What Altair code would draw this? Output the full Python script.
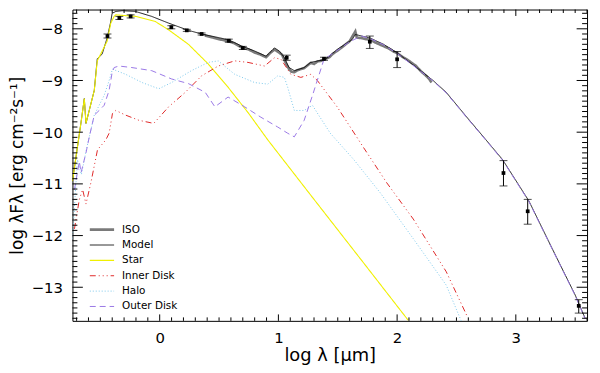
import altair as alt
import pandas as pd

# ---------------- data (log lambda [um], log lambda F_lambda) ----------------
series_names = ["ISO", "Model", "Star", "Inner Disk", "Halo", "Outer Disk"]

iso_x = [0.38, 0.45, 0.50, 0.576, 0.63, 0.688, 0.75, 0.80, 0.85, 0.896, 0.93, 0.967,
         1.0, 1.03, 1.05, 1.07, 1.09, 1.11, 1.134, 1.16, 1.19, 1.217, 1.25, 1.272,
         1.30, 1.33, 1.36, 1.398, 1.43, 1.46, 1.50, 1.55, 1.60, 1.63, 1.648, 1.66,
         1.70, 1.74, 1.78, 1.83, 1.88, 1.93, 1.97, 2.0, 2.05, 2.1, 2.16, 2.2, 2.24,
         2.27, 2.29]
iso_y = [-8.13, -8.17, -8.20, -8.24, -8.28, -8.36, -8.40, -8.46, -8.50, -8.55, -8.47,
         -8.40, -8.45, -8.50, -8.60, -8.70, -8.78, -8.83, -8.84, -8.80, -8.78, -8.76,
         -8.70, -8.66, -8.68, -8.63, -8.62, -8.58, -8.55, -8.48, -8.42, -8.33, -8.24,
         -8.12, -8.05, -8.17, -8.18, -8.20, -8.22, -8.28, -8.33, -8.38, -8.44, -8.47,
         -8.55, -8.62, -8.72, -8.82, -8.90, -8.97, -9.04]

model_x = [-0.735, -0.662, -0.635, -0.621, -0.551, -0.526, -0.485, -0.443, -0.412,
           -0.401, -0.370, -0.317, -0.203, -0.067, 0.075, 0.242, 0.353, 0.576, 0.688,
           0.80, 0.896, 0.967, 1.008, 1.05, 1.09, 1.134, 1.217, 1.272, 1.398, 1.495,
           1.621, 1.648, 1.774, 1.886, 1.997, 2.164, 2.303, 2.414, 2.58, 2.749, 2.888,
           3.11, 3.306, 3.50, 3.584]
model_y = [-10.95, -9.80, -9.35, -9.83, -9.19, -8.58, -8.49, -8.18, -7.86, -7.70,
           -7.665, -7.65, -7.665, -7.76, -7.89, -8.03, -8.10, -8.21, -8.33, -8.43,
           -8.53, -8.37, -8.43, -8.56, -8.75, -8.81, -8.75, -8.65, -8.59, -8.40, -8.21,
           -8.11, -8.18, -8.30, -8.46, -8.75, -9.00, -9.23, -9.69, -10.15, -10.53,
           -11.33, -12.25, -13.15, -13.60]

star_x = [-0.735, -0.662, -0.635, -0.621, -0.551, -0.526, -0.443, -0.412, -0.384,
          -0.370, -0.203, -0.036, 0.075, 0.242, 0.409, 0.576, 0.744, 0.911, 1.30,
          1.718, 2.094]
star_y = [-10.95, -9.80, -9.35, -9.83, -9.19, -8.62, -8.24, -7.89, -7.76, -7.73,
          -7.76, -7.86, -8.02, -8.30, -8.68, -9.13, -9.62, -10.15, -11.30, -12.53,
          -13.64]

inner_x = [-0.718, -0.677, -0.649, -0.621, -0.579, -0.524, -0.454, -0.426, -0.398,
           -0.370, -0.287, -0.175, -0.05, 0.075, 0.215, 0.353, 0.493, 0.632, 0.744,
           0.883, 0.967, 1.022, 1.105, 1.189, 1.272, 1.328, 1.495, 1.718, 1.913, 2.136,
           2.414, 2.596]
inner_y = [-11.87, -11.30, -11.11, -11.39, -10.97, -10.34, -10.15, -10.02, -9.64,
           -9.58, -9.67, -9.77, -9.83, -9.51, -9.23, -8.91, -8.72, -8.62, -8.65, -8.72,
           -8.56, -8.59, -8.88, -8.94, -8.88, -9.00, -9.51, -10.30, -10.98, -11.68,
           -12.70, -13.59]

halo_x = [-0.735, -0.693, -0.66, -0.618, -0.551, -0.51, -0.468, -0.426, -0.398,
          -0.287, -0.148, -0.008, 0.10, 0.267, 0.409, 0.493, 0.632, 0.80, 0.911, 0.994,
          1.05, 1.078, 1.134, 1.217, 1.287, 1.328, 1.437, 1.635, 1.857, 2.136, 2.414,
          2.54]
halo_y = [-12.06, -10.53, -10.82, -10.34, -9.67, -9.48, -9.29, -9.00, -8.78, -8.88,
          -9.04, -9.16, -9.04, -8.81, -8.65, -8.62, -8.88, -9.04, -9.07, -8.91, -8.94,
          -9.13, -9.58, -9.58, -9.48, -9.63, -10.02, -10.53, -11.17, -12.06, -12.96,
          -13.65]

outer_x = [-0.718, -0.677, -0.662, -0.621, -0.593, -0.551, -0.51, -0.468, -0.426,
           -0.401, -0.384, -0.343, -0.234, -0.067, 0.10, 0.242, 0.384, 0.465, 0.576,
           0.716, 0.852, 0.994, 1.078, 1.134, 1.217, 1.287, 1.384, 1.495, 1.60, 1.70,
           1.774, 1.886, 1.997, 2.164, 2.303, 2.414, 2.58, 2.749, 2.888, 3.11, 3.306,
           3.50, 3.584]
outer_y = [-11.11, -10.57, -10.78, -10.40, -10.09, -9.67, -9.58, -9.48, -9.19, -8.85,
           -8.75, -8.72, -8.75, -8.81, -8.97, -9.06, -9.23, -9.51, -9.32, -9.51, -9.71,
           -9.90, -10.02, -10.09, -9.77, -9.29, -8.59, -8.42, -8.25, -8.14, -8.19,
           -8.31, -8.47, -8.76, -9.01, -9.24, -9.70, -10.16, -10.54, -11.34, -12.26,
           -13.16, -13.61]

# photometry with error bars
phot_x = [-0.44, -0.34, -0.245, 0.098, 0.228, 0.353, 0.582, 0.70, 1.07, 1.384, 1.77,
          2.0, 2.896, 3.10, 3.53]
phot_y = [-8.14, -7.79, -7.76, -7.97, -8.03, -8.10, -8.23, -8.37, -8.56, -8.58, -8.25,
          -8.59, -10.79, -11.53, -13.36]
phot_lo = [-8.18, -7.82, -7.79, -8.00, -8.05, -8.12, -8.26, -8.40, -8.61, -8.61, -8.38,
           -8.75, -11.04, -11.78, -13.50]
phot_hi = [-8.10, -7.76, -7.73, -7.94, -8.01, -8.08, -8.20, -8.34, -8.51, -8.55, -8.14,
           -8.44, -10.55, -11.30, -13.24]

series_colors = ["#7a7a7a", "#000000", "#f0f000", "#e02828", "#7cc8ec", "#9a78e6"]
series_dash = [[1, 0], [1, 0], [1, 0], [6, 3, 1, 3, 1, 3, 1, 3], [1, 2], [6, 4]]
series_width = [2.6, 0.9, 1.1, 1.0, 1.0, 1.0]

x_major = [0, 1, 2, 3]
y_major = [-8, -9, -10, -11, -12, -13]

# ---------------- build tables ----------------
rows = []
for name, xs_, ys_ in [("ISO", iso_x, iso_y), ("Model", model_x, model_y),
                       ("Star", star_x, star_y), ("Inner Disk", inner_x, inner_y),
                       ("Halo", halo_x, halo_y), ("Outer Disk", outer_x, outer_y)]:
    for i, (a, b) in enumerate(zip(xs_, ys_)):
        rows.append({"series": name, "lx": a, "ly": b, "ord": i})
lines_df = pd.DataFrame(rows)
phot_df = pd.DataFrame({"lx": phot_x, "ly": phot_y, "lo": phot_lo, "hi": phot_hi})
leg_df = pd.DataFrame({"series": series_names, "i": list(range(len(series_names)))})

W, H = 519, 314
XDOM = [-0.735, 3.60]
YDOM = [-13.65, -7.627]
xsc = alt.Scale(domain=XDOM, nice=False, zero=False)
ysc = alt.Scale(domain=YDOM, nice=False, zero=False)

x_minor = [round(-0.7 + 0.1 * i, 2) for i in range(44)]
x_minor = [v for v in x_minor if abs(v - round(v)) > 1e-6]
y_minor = [round(-13.6 + 0.1 * i, 2) for i in range(60)]
y_minor = [v for v in y_minor if abs(v - round(v)) > 1e-6]

FONT = "DejaVu Sans"

color_enc = alt.Color("series:N", scale=alt.Scale(domain=series_names, range=series_colors),
                      legend=None)
dash_enc = alt.StrokeDash("series:N", scale=alt.Scale(domain=series_names, range=series_dash),
                          legend=None)
width_enc = alt.StrokeWidth("series:N", scale=alt.Scale(type="ordinal", domain=series_names,
                                                        range=series_width), legend=None)

lines = alt.Chart(lines_df).mark_line(clip=True).encode(
    x=alt.X("lx:Q", scale=xsc, axis=alt.Axis(
        values=x_major, ticks=False, domain=False, grid=False, labelPadding=10,
        labelFont=FONT, labelFontSize=15, labelColor="black", title="log λ [μm]",
        titleFont=FONT, titleFontSize=18, titleFontWeight="normal", titleColor="black",
        titlePadding=1, format="d")),
    y=alt.Y("ly:Q", scale=ysc, axis=alt.Axis(
        values=y_major, ticks=False, domain=False, grid=False, labelPadding=10,
        labelFont=FONT, labelFontSize=15, labelColor="black",
        title="log λFλ [erg cm⁻²s⁻¹]", titleFont=FONT, titleFontSize=17,
        titleFontWeight="normal", titleColor="black", titlePadding=5, format="d")),
    color=color_enc, strokeDash=dash_enc, strokeWidth=width_enc,
    order="ord:Q",
)

ebar = alt.Chart(phot_df).mark_rule(color="black", strokeWidth=1).encode(
    x="lx:Q", y="lo:Q", y2="hi:Q")
cap_lo = alt.Chart(phot_df).mark_tick(orient="horizontal", size=8, thickness=1,
                                      color="black").encode(x="lx:Q", y="lo:Q")
cap_hi = alt.Chart(phot_df).mark_tick(orient="horizontal", size=8, thickness=1,
                                      color="black").encode(x="lx:Q", y="hi:Q")
pts = alt.Chart(phot_df).mark_square(size=14, color="black", opacity=1).encode(
    x="lx:Q", y="ly:Q")

# legend drawn in the lower-left corner of the plot
leg_base = alt.Chart(leg_df).transform_calculate(ry="222 + 15.5 * datum.i")
leg_lines = leg_base.mark_rule().encode(
    x=alt.value(17.5), x2=alt.value(42), y=alt.Y("ry:Q", scale=None),
    color=color_enc, strokeDash=dash_enc, strokeWidth=width_enc)
leg_text = leg_base.mark_text(align="left", baseline="middle", font=FONT, fontSize=10.5,
                              color="black").encode(
    x=alt.value(50), y=alt.Y("ry:Q", scale=None), text="series:N")

# inward tick marks on all four sides (IDL style)
xt_df = pd.DataFrame({"v": x_major + x_minor,
                      "len": [6.5] * len(x_major) + [3.5] * len(x_minor)})
yt_df = pd.DataFrame({"v": y_major + y_minor,
                      "len": [10.5] * len(y_major) + [5.0] * len(y_minor)})


def xticks(top):
    return alt.Chart(xt_df).transform_calculate(
        a=str(0 if top else H), b=("datum.len" if top else f"{H} - datum.len")
    ).mark_rule(color="black", strokeWidth=1).encode(
        x=alt.X("v:Q"), y=alt.Y("a:Q", scale=None), y2="b:Q")


def yticks(right):
    return alt.Chart(yt_df).transform_calculate(
        a=str(W if right else 0), b=(f"{W} - datum.len" if right else "datum.len")
    ).mark_rule(color="black", strokeWidth=1).encode(
        y=alt.Y("v:Q"), x=alt.X("a:Q", scale=None), x2="b:Q")


chart = alt.layer(
    lines, ebar, cap_lo, cap_hi, pts, leg_lines, leg_text,
    xticks(False), xticks(True), yticks(False), yticks(True)
).properties(
    width=W, height=H,
    autosize=alt.AutoSizeParams(type="none"),
    padding={"left": 65, "top": 0, "right": 5, "bottom": 45},
).configure_view(stroke="black", strokeWidth=1)

chart.save("out.html", embed_options={"renderer": "svg", "actions": False})
